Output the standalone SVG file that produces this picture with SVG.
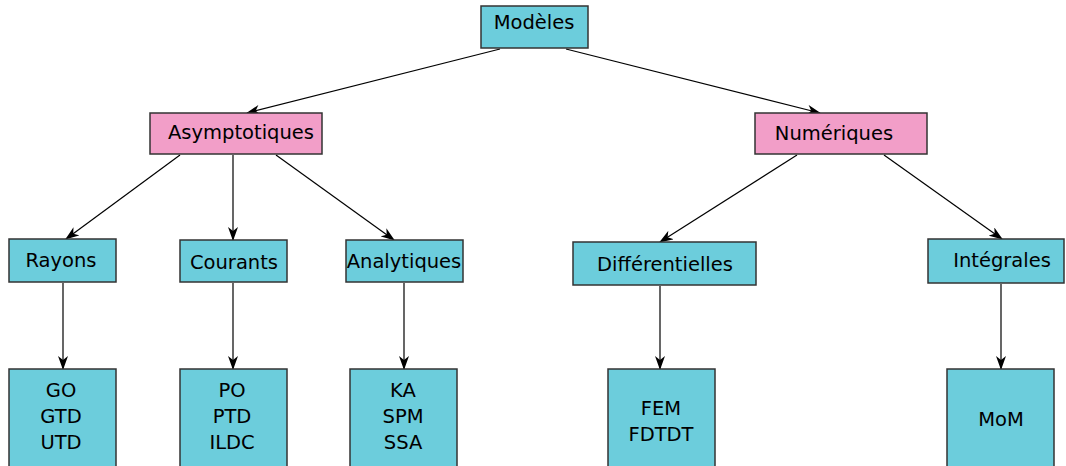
<svg xmlns="http://www.w3.org/2000/svg" width="1066" height="466" viewBox="0 0 1066 466">
<style>
.b{fill:#6ccddc;stroke:#333;stroke-width:1.5}
.p{fill:#f29ec8;stroke:#333;stroke-width:1.5}
text{font-family:"Comic Sans MS","DejaVu Sans",sans-serif;font-size:19.5px;fill:#000;text-anchor:middle;dominant-baseline:central}
.c line{stroke:#000;stroke-width:1.2;marker-end:url(#a)}
</style>
<defs>
<marker id="a" markerWidth="14" markerHeight="10" refX="13" refY="5" orient="auto" markerUnits="userSpaceOnUse">
<path d="M0,0 L14,5 L0,10 L4,5 z" fill="#000"/>
</marker>
</defs>
<g class="c" id="connectors">
<line x1="500" y1="49" x2="247" y2="113"/>
<line x1="566" y1="49" x2="820" y2="113"/>
<line x1="180" y1="155" x2="66" y2="239"/>
<line x1="233" y1="155" x2="233" y2="240"/>
<line x1="276" y1="155" x2="394" y2="240"/>
<line x1="797" y1="155" x2="660" y2="242"/>
<line x1="884" y1="155" x2="1002" y2="239"/>
<line x1="63" y1="283" x2="63" y2="369"/>
<line x1="233" y1="283" x2="233" y2="369"/>
<line x1="404" y1="283" x2="404" y2="369"/>
<line x1="660" y1="286" x2="660" y2="369"/>
<line x1="1001" y1="284" x2="1001" y2="369"/>
</g>
<g id="modeles"><rect class="b" x="481" y="6" width="107" height="42"/><text x="534" y="22">Modèles</text></g>
<g id="asymptotiques"><rect class="p" x="150" y="113" width="172" height="41"/><text x="241" y="132">Asymptotiques</text></g>
<g id="numeriques"><rect class="p" x="755" y="113" width="172" height="41"/><text x="834" y="133">Numériques</text></g>
<g id="rayons"><rect class="b" x="9" y="239" width="107" height="43"/><text x="61" y="260">Rayons</text></g>
<g id="courants"><rect class="b" x="180" y="240" width="107" height="42"/><text x="234" y="262">Courants</text></g>
<g id="analytiques"><rect class="b" x="346" y="240" width="117" height="42"/><text x="404" y="261">Analytiques</text></g>
<g id="differentielles"><rect class="b" x="573" y="242" width="183" height="43"/><text x="665" y="264">Différentielles</text></g>
<g id="integrales"><rect class="b" x="928" y="239" width="136" height="44"/><text x="1002" y="260">Intégrales</text></g>
<g id="rayons-methodes"><rect class="b" x="9" y="369" width="107" height="100"/><text x="61" y="390">GO</text><text x="61" y="416">GTD</text><text x="61" y="442">UTD</text></g>
<g id="courants-methodes"><rect class="b" x="180" y="369" width="107" height="100"/><text x="232" y="390">PO</text><text x="232" y="416">PTD</text><text x="232" y="442">ILDC</text></g>
<g id="analytiques-methodes"><rect class="b" x="350" y="369" width="107" height="100"/><text x="403" y="390">KA</text><text x="403" y="416">SPM</text><text x="403" y="442">SSA</text></g>
<g id="differentielles-methodes"><rect class="b" x="608" y="369" width="107" height="100"/><text x="661" y="408">FEM</text><text x="661" y="434">FDTDT</text></g>
<g id="integrales-methodes"><rect class="b" x="947" y="369" width="107" height="100"/><text x="1001" y="419">MoM</text></g>
</svg>
